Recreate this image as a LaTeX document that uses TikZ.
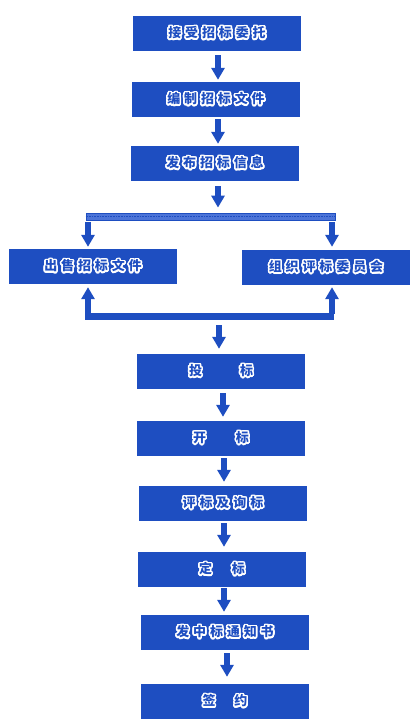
\documentclass[tikz,border=0pt]{standalone}
\usepackage{fontspec}
\usepackage[copies]{contour}
\usetikzlibrary{arrows.meta,calc}
\newfontfamily\cjk[LetterSpace=30]{Noto Sans CJK SC}
\contourlength{1.5pt}
\contournumber{24}
\definecolor{flowblue}{RGB}{30,78,193}
\definecolor{barblue}{RGB}{76,116,216}
\newcommand{\boxtext}[1]{\cjk\bfseries\fontsize{13}{13}\selectfont\contour{white}{#1}}
\tikzset{
  stage/.style={fill=flowblue, text=flowblue, minimum width=168pt, minimum height=35pt, inner sep=0pt},
  flow/.style={draw=flowblue, line width=6.5pt, -{Triangle[width=13pt,length=12pt]}},
}
\begin{document}
\begin{tikzpicture}[x=1pt, y=-1pt]
    \useasboundingbox (0,0) rectangle (418,722);

    \node[stage] (accept)  at (217,33.5)  {\boxtext{接受招标委托}};
    \node[stage] (compile) at (216,99.5)  {\boxtext{编制招标文件}};
    \node[stage] (publish) at (215,163.5) {\boxtext{发布招标信息}};

    \node[fill=barblue, draw=flowblue, line width=0.8pt, minimum width=249pt, minimum height=7pt, inner sep=0pt] (topbar) at (210.5,216.5) {};
    \draw[flowblue, densely dotted, line width=0.6pt] (topbar.west) -- (topbar.east);

    \node[stage] (sell)  at (93,266.5)  {\boxtext{出售招标文件}};
    \node[stage] (panel) at (326,267.5) {\boxtext{组织评标委员会}};

    \node[fill=flowblue, minimum width=249pt, minimum height=7pt, inner sep=0pt] (botbar) at (209.5,316.5) {};

    \node[stage] (bid)     at (221,371.5) {\boxtext{投\hspace{38pt}标}};
    \node[stage] (open)    at (221,438.5) {\boxtext{开\hspace{30pt}标}};
    \node[stage] (assess)  at (223,503.5) {\boxtext{评标及询标}};
    \node[stage] (award)   at (222,569.5) {\boxtext{定\hspace{20pt}标}};
    \node[stage] (notice)  at (225,632.5) {\boxtext{发中标通知书}};
    \node[stage] (sign)    at (225,701.5) {\boxtext{签\hspace{19pt}约}};

    \coordinate (lcol) at (88,0);
    \coordinate (rcol) at (332,0);

    % main line
    \draw[flow] ($(accept.south)+(1,4)$) -- ($(compile.north)+(2,-2)$);
    \draw[flow] ($(compile.south)+(2,2)$) -- ($(publish.north)+(3,-2)$);
    \draw[flow] ($(publish.south)+(3,5)$) -- ($(topbar.north -| publish.south)+(3,-5)$);

    % split and join
    \draw[flow] ($(topbar.south -| lcol)+(0,2)$) -- ($(sell.north -| lcol)+(0,-2)$);
    \draw[flow] ($(topbar.south -| rcol)+(0,2)$) -- ($(panel.north -| rcol)+(0,-3)$);
    \draw[flow] ($(botbar.north -| lcol)+(0,1)$) -- ($(sell.south -| lcol)+(0,3)$);
    \draw[flow] ($(botbar.north -| rcol)+(0,1)$) -- ($(panel.south -| rcol)+(0,2)$);
    \draw[flow] ($(botbar.south -| bid.north)+(-2,5)$) -- ($(bid.north)+(-2,-5)$);

    % lower line
    \draw[flow] ($(bid.south)+(2,4)$) -- ($(open.north)+(2,-4)$);
    \draw[flow] ($(open.south)+(3,2)$) -- ($(assess.north)+(1,-4)$);
    \draw[flow] ($(assess.south)+(1,2)$) -- ($(award.north)+(2,-5)$);
    \draw[flow] ($(award.south)+(2,1)$) -- ($(notice.north)+(-1,-3)$);
    \draw[flow] ($(notice.south)+(2,3)$) -- ($(sign.north)+(2,-7)$);
\end{tikzpicture}
\end{document}
